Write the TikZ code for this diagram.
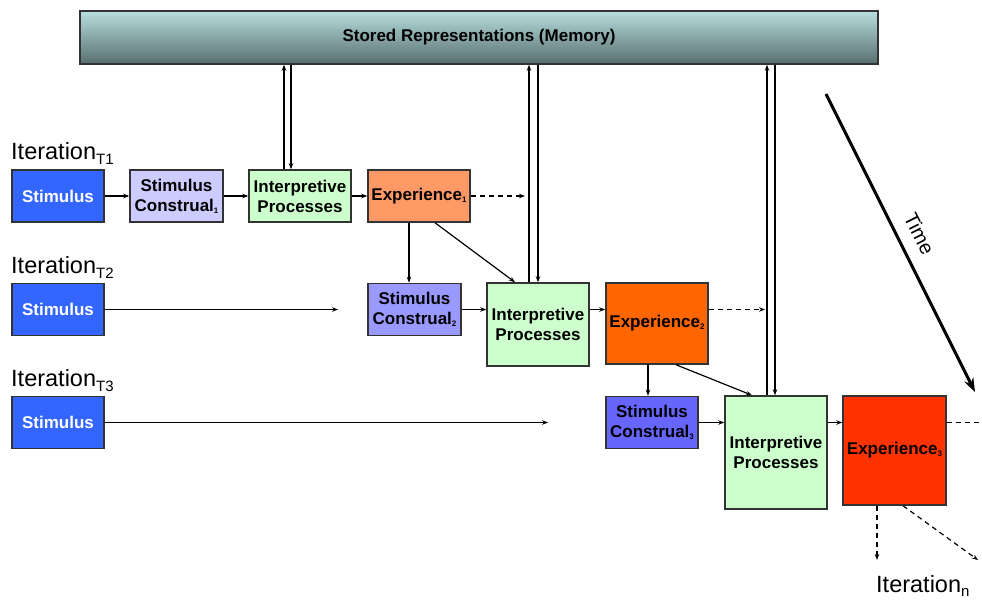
\documentclass[tikz,border=0pt]{standalone}
\usepackage{fontspec}
\setmainfont{Liberation Sans}
\usetikzlibrary{arrows.meta, calc}
\definecolor{colorStim}{HTML}{3366FF}
\definecolor{colorConsA}{HTML}{CCCCFF}
\definecolor{colorConsB}{HTML}{9999FF}
\definecolor{colorConsC}{HTML}{6666FF}
\definecolor{colorInterp}{HTML}{CCFFCC}
\definecolor{colorExpA}{HTML}{FF9966}
\definecolor{colorExpB}{HTML}{FF6600}
\definecolor{colorExpC}{HTML}{FF3300}
\definecolor{memTop}{HTML}{B8DEDE}
\definecolor{memBottom}{HTML}{586E6E}
\newcommand{\idx}[1]{\raisebox{-2pt}{\fontsize{8}{8}\selectfont #1}}
\newcommand{\iterlab}[1]{Iteration\raisebox{-5pt}{\fontsize{15}{15}\selectfont #1}}

\begin{document}
\begin{tikzpicture}[x=1pt, y=-1pt,
        box/.style={draw=black!80, line width=1.5pt, inner sep=0pt, align=center,
            font=\fontsize{17}{20}\selectfont\bfseries},
        stim/.style={box, fill=colorStim, text=white, minimum width=92pt, minimum height=52pt},
        cons/.style={box, minimum width=93pt, minimum height=52pt},
        interp/.style={box, fill=colorInterp, minimum width=102pt},
        expo/.style={box, minimum width=102pt},
        lab/.style={inner sep=0pt, anchor=base west, font=\fontsize{23.5}{26}\selectfont},
        rel/.style={-{Stealth[length=6pt,width=4.5pt]}, line width=1.2pt},
        relD/.style={rel, dash pattern=on 5pt off 4pt}
    ]
        \useasboundingbox (0,0) rectangle (982,602);
        \node[box, top color=memTop, bottom color=memBottom, minimum width=798pt, minimum height=53pt] (mem) at (479,37.5) {Stored Representations (Memory)};

        \node[lab] (itA) at (11,159) {\iterlab{T1}};
        \node[lab] (itB) at (11,273) {\iterlab{T2}};
        \node[lab] (itC) at (11,386) {\iterlab{T3}};
        \node[lab] (itN) at (876,592) {Iteration\raisebox{-4pt}{\fontsize{15}{15}\selectfont n}};

        \node[stim] (sA) at (58,196) {Stimulus};
        \node[cons, fill=colorConsA] (cA) at (176.5,196) {Stimulus\\Construal\idx{1}};
        \node[interp, minimum height=52pt] (iA) at (300,196) {Interpretive\\Processes};
        \node[expo, fill=colorExpA, minimum height=52pt] (eA) at (419,196) {Experience\idx{1}};

        \node[stim] (sB) at (58,309.5) {Stimulus};
        \node[cons, fill=colorConsB] (cB) at (414.5,309.5) {Stimulus\\Construal\idx{2}};
        \node[interp, minimum height=83pt] (iB) at (538,324.5) {Interpretive\\Processes};
        \node[expo, fill=colorExpB, minimum height=81pt] (eB) at (657,323.5) {Experience\idx{2}};

        \node[stim] (sC) at (58,422.5) {Stimulus};
        \node[cons, fill=colorConsC, minimum width=92pt] (cC) at (652,422.5) {Stimulus\\Construal\idx{3}};
        \node[interp, minimum height=113pt] (iC) at (776,452.5) {Interpretive\\Processes};
        \node[expo, fill=colorExpC, minimum width=103pt, minimum height=109pt] (eC) at (894.5,450.5) {Experience\idx{3}};

        \coordinate (dA) at (525,196);
        \coordinate (dB) at (765,309.5);
        \coordinate (dC) at (982,422.5);
        \coordinate (gB) at (338,309.5);
        \coordinate (gC) at (548,422.5);
        \coordinate (nDown) at (877,560);
        \coordinate (nDiag) at (978,560);
        \coordinate (tStart) at (826,94);
        \coordinate (tEnd) at (975,392);

        \draw[rel] (sA) -- (cA); \draw[rel] (cA) -- (iA); \draw[rel] (iA) -- (eA);
        \draw[relD] (eA) -- (dA);
        \draw[rel] ([xshift=-16pt]iA.north) -- ([xshift=-16pt]iA.north |- mem.south);
        \draw[rel] ([xshift=-9pt]iA.north |- mem.south) -- ([xshift=-9pt]iA.north);

        \draw[rel] (sB) -- (gB);
        \draw[rel] ([xshift=-10pt]eA.south) -- ([xshift=-10pt]eA.south |- cB.north);
        \draw[rel] ([xshift=16pt]eA.south) -- ([xshift=-23pt]iB.north);
        \draw[rel] (cB) -- (cB -| iB.west); \draw[rel] (iB.east |- cB) -- (eB.west |- cB);
        \draw[relD] (eB.east |- cB) -- (dB);
        \draw[rel] ([xshift=-9pt]iB.north) -- ([xshift=-9pt]iB.north |- mem.south);
        \draw[rel] (iB.north |- mem.south) -- (iB.north);

        \draw[rel] (sC) -- (gC);
        \draw[rel] ([xshift=-9pt]eB.south) -- ([xshift=-9pt]eB.south |- cC.north);
        \draw[rel] ([xshift=19pt]eB.south) -- ([xshift=-24pt]iC.north);
        \draw[rel] (cC) -- (cC -| iC.west); \draw[rel] (iC.east |- cC) -- (eC.west |- cC);
        \draw[relD, -] (eC.east |- cC) -- (dC);
        \draw[rel] ([xshift=-9pt]iC.north) -- ([xshift=-9pt]iC.north |- mem.south);
        \draw[rel] ([xshift=-1pt]iC.north |- mem.south) -- ([xshift=-1pt]iC.north);

        \draw[relD] ([xshift=-17.5pt]eC.south) -- (nDown);
        \draw[relD] ([xshift=8.5pt]eC.south) -- (nDiag);

        \draw[line width=3pt, -{Stealth[length=14pt,width=10pt]}] (tStart) -- (tEnd)
            node[pos=0.5, above=9pt, sloped, font=\fontsize{20}{22}\selectfont] (time) {Time};
    \end{tikzpicture}
\end{document}
